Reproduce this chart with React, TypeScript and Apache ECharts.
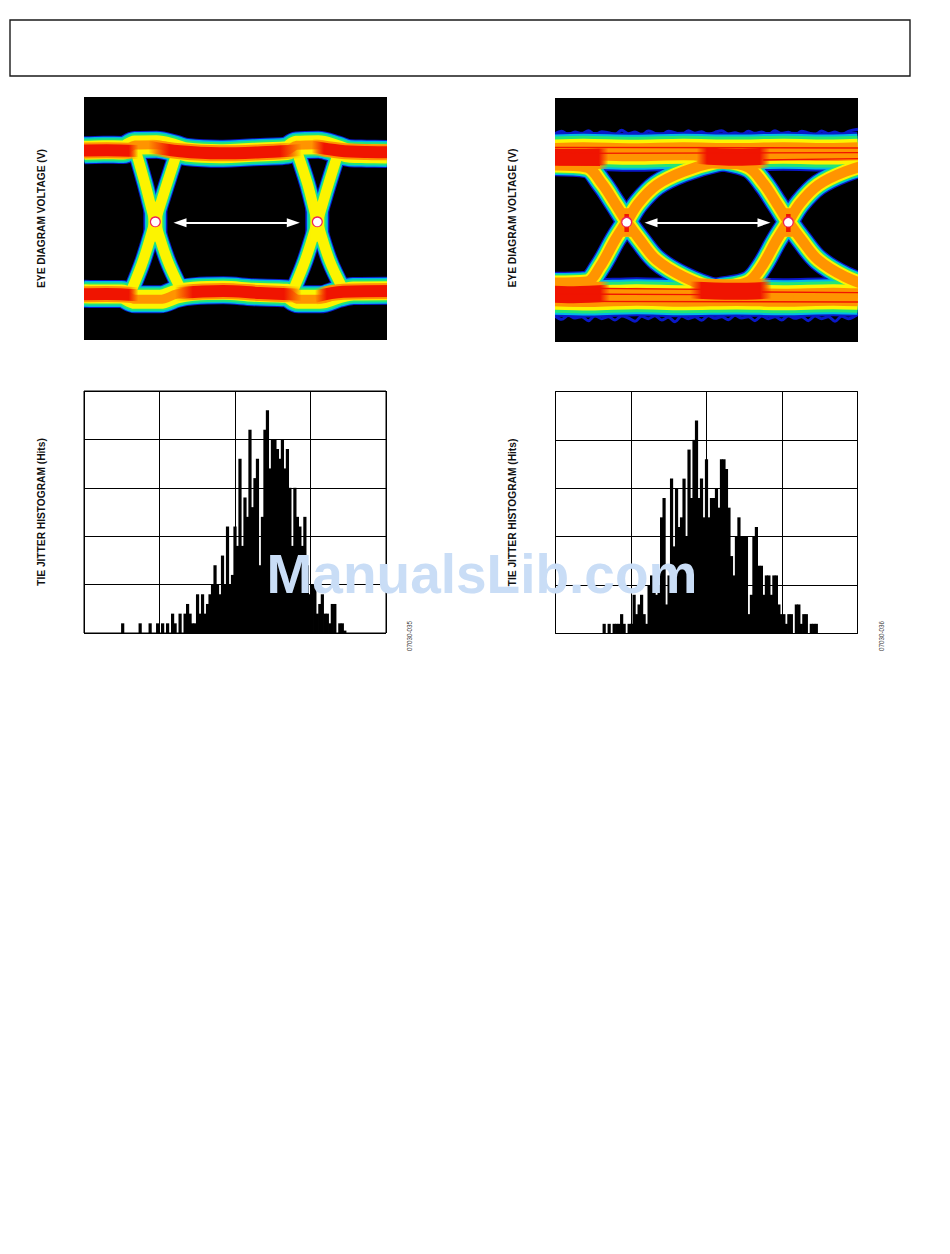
import React, { useEffect, useRef } from "react";
import * as echarts from "echarts";

type Pts = [number, number][];

// ---- Histogram hits per jitter bin ----
const binCount = 121;
const leftHits = [
  0,0,0,0,0,0,0,0,0,0,0,0,0,0,0,1,0,0,0,0,0,0,1,0,0,0,1,0,0,1,
  0,1,0,1,0,2,1,0,2,0,2,3,2,1,1,4,2,4,2,3,4,5,7,5,4,8,5,11,5,6,
  11,9,18,9,14,12,21,13,16,18,7,12,21,23,17,20,20,19,18,20,17,19,15,9,15,12,11,9,12,7,
  4,5,5,2,3,4,2,2,1,3,3,0,1,1,0.25,0,0,0,0,0,0,0,0,0,0,0,0,0,0,0,0,
];
const rightHits = [
  0,0,0,0,0,0,0,0,0,0,0,0,0,0,0,0,0,0,0,1,0,1,0,1,1,1,2,1,0,1,
  1,4,2,3,4,2,1,5,6,5,4,5,12,14,3,6,16,9,15,11,12,16,10,19,14,20,22,14,16,12,
  18,12,14,14,15,13,18,18,17,13,8,6,10,12,10,10,10,2,4,10,11,7,7,4,6,6,4,6,6,3,
  2,2,1,2,2,0,3,3,1,2,2,0,1,1,1,0,0,0,0,0,0,0,0,0,0,0,0,0,0,0,0,
];

// ---- Eye diagram traces, in the scope's raster units ----
const leftUpperRail: Pts = [[12,181],[70,179],[130,180],[165,165],[230,164],[285,176],[320,186],[420,191],[480,189],[560,185],[620,182],[650,166],[715,164],[770,178],[810,190],[860,191],[921,192]];
const leftLowerRail: Pts = [[12,611],[70,612],[125,612],[165,628],[240,628],[290,612],[340,604],[430,601],[520,607],[620,610],[655,628],[720,628],[775,612],[820,603],[921,602]];
const leftFalling1: Pts = [[168,185],[195,280],[225,395],[262,510],[302,597]];
const leftRising1: Pts = [[292,185],[258,290],[225,395],[190,510],[156,597]];
const leftFalling2: Pts = [[651,185],[682,280],[712,395],[748,510],[789,597]];
const leftRising2: Pts = [[776,185],[743,290],[712,395],[676,510],[641,597]];
const leftWaist1: Pts = [[226,335],[226,455]];
const leftWaist2: Pts = [[712,335],[712,455]];
const leftHotUpper: Pts[] = [
  [[-30,182],[80,181],[175,183]],
  [[205,170],[300,184],[420,190],[560,186],[665,180]],
  [[695,170],[780,182],[860,186],[960,187]],
];
const leftHotLower: Pts[] = [
  [[-30,613],[80,612],[175,616]],
  [[285,610],[430,603],[540,609],[665,614]],
  [[705,620],[790,605],[960,603]],
];
const leftCrossings: Pts = [[226,395],[712,395]];
const leftEyeArrow: Pts = [[300,398],[640,398]];

const rightUpperRail: Pts = [[15,186],[100,184],[250,187],[400,184],[550,186],[700,184],[850,186],[924,184]];
const rightLowerRail: Pts = [[15,622],[120,624],[260,620],[400,623],[560,621],[700,623],[850,620],[924,622]];
const rightFalling1: Pts = [[15,226],[110,232],[155,280],[195,340],[230,395],[270,450],[320,510],[400,560],[500,598],[640,618],[730,625]];
const rightRising1: Pts = [[15,578],[110,575],[150,530],[195,450],[230,395],[265,340],[320,285],[400,245],[500,215],[640,195],[730,188]];
const rightFalling2: Pts = [[410,190],[500,208],[595,232],[640,280],[680,340],[715,395],[755,450],[805,510],[885,560],[985,598]];
const rightRising2: Pts = [[410,618],[500,596],[595,575],[635,530],[680,450],[715,395],[750,340],[805,285],[885,245],[985,215]];
const rightWaist1: Pts = [[230,355],[230,440]];
const rightWaist2: Pts = [[715,355],[715,440]];
const rightCore1: Pts = [[230,372],[230,426]];
const rightCore2: Pts = [[715,372],[715,426]];
const rightHot: Pts[] = [
  [[-30,198],[60,202],[175,200]],
  [[440,196],[560,202],[660,198]],
  [[-30,610],[70,614],[180,610]],
  [[420,600],[550,604],[665,600]],
];
const rightStripes: Pts[] = [
  [[15,172],[924,174]],
  [[15,190],[924,188]],
  [[15,224],[150,226]],
  [[640,210],[924,206]],
  [[15,594],[460,598]],
  [[15,612],[460,614]],
  [[635,606],[924,608]],
  [[15,634],[924,636]],
];
const rightTopSpeckle: Pts = [[15,132],[35,124],[55,134],[75,126],[95,131],[115,122],[135,134],[155,125],[175,128],[195,133],[215,121],[235,131],[255,126],[275,135],[295,123],[315,130],[335,134],[355,124],[375,128],[395,135],[415,122],[435,130],[455,125],[475,134],[495,127],[515,122],[535,133],[555,128],[575,135],[595,124],[615,130],[635,126],[655,134],[675,122],[695,131],[715,127],[735,135],[755,124],[775,129],[795,134],[815,123],[835,131],[855,126],[875,134],[895,124],[924,118]];
const rightBottomSpeckle: Pts = [[15,678],[35,688],[55,676],[75,684],[95,680],[115,692],[135,677],[155,686],[175,680],[195,690],[215,678],[235,684],[255,694],[275,679],[295,686],[315,677],[335,690],[355,682],[375,695],[395,678],[415,686],[435,680],[455,691],[475,677],[495,685],[515,680],[535,689],[555,676],[575,684],[595,680],[615,692],[635,678],[655,686],[675,680],[695,690],[715,677],[735,685],[755,680],[775,692],[795,678],[815,686],[835,680],[855,694],[875,679],[895,686],[924,672]];
const rightCrossings: Pts = [[230,396],[715,396]];
const rightEyeArrow: Pts = [[303,398],[642,398]];

// ---- Texts ----
const eyeAxisName = "EYE DIAGRAM VOLTAGE (V)";
const histAxisName = "TIE JITTER HISTOGRAM (Hits)";
const leftFigureId = "07030-035";
const rightFigureId = "07030-036";
const watermark = "ManualsLib.com";

const levelColors = ["#0a18c8", "#00b8e8", "#22e676", "#fcf400", "#ff9400", "#f01400"];
const levelFade = ["#ff940000", "#f0140000"];
const font = "Liberation Sans";

function band(grid: number, pts: Pts, widths: number[], fade = false) {
  return widths
    .map((w, i) => {
      if (w <= 0) return null;
      const c = levelColors[i];
      const color =
        fade && i >= 4
          ? new echarts.graphic.LinearGradient(0, 0, 1, 0, [
              { offset: 0, color: levelFade[i - 4] },
              { offset: 0.14, color: c },
              { offset: 0.86, color: c },
              { offset: 1, color: levelFade[i - 4] },
            ])
          : c;
      return {
        type: "line",
        xAxisIndex: grid,
        yAxisIndex: grid,
        data: pts,
        symbol: "none",
        smooth: 0.35,
        silent: true,
        z: 3 + i,
        lineStyle: { color, width: w, cap: "butt", join: "round" },
      };
    })
    .filter(Boolean);
}

function crossings(grid: number, pts: Pts) {
  return [
    {
      type: "scatter",
      xAxisIndex: grid,
      yAxisIndex: grid,
      data: pts,
      symbolSize: 11,
      silent: true,
      z: 12,
      itemStyle: { color: "#f0205a", opacity: 1 },
    },
    {
      type: "scatter",
      xAxisIndex: grid,
      yAxisIndex: grid,
      data: pts.map(([x, y]) => [x, y + 1]),
      symbolSize: 8.5,
      silent: true,
      z: 13,
      itemStyle: { color: "#ffffff", opacity: 1 },
    },
  ];
}

function arrow(grid: number, pts: Pts) {
  return {
    type: "line",
    xAxisIndex: grid,
    yAxisIndex: grid,
    data: [],
    z: 14,
    silent: true,
    markLine: {
      silent: true,
      z: 14,
      animation: false,
      symbol: ["triangle", "triangle"],
      symbolSize: [9, 13],
      label: { show: false },
      lineStyle: { color: "#ffffff", width: 2, type: "solid" },
      data: [[{ coord: pts[0] }, { coord: pts[1] }]],
    },
  };
}

function histSeries(grid: number, hits: number[]) {
  return {
    type: "bar",
    xAxisIndex: grid,
    yAxisIndex: grid,
    data: hits.map((h, k) => [k + 0.5, h]).filter((d) => d[1] > 0),
    barWidth: 3.2,
    silent: true,
    z: 3,
    itemStyle: { color: "#000000" },
  };
}

const yAxisBase = (name: string, gap: number, padding: number[] = [0, 0, 0, 0]) => ({
  type: "value",
  name,
  nameLocation: "middle",
  nameGap: gap,
  nameTextStyle: { color: "#111111", fontFamily: font, fontWeight: "bold", fontSize: 10.2, padding },
  axisTick: { show: false },
  axisLabel: { show: false },
});

function buildOption() {
  const railW = [28, 26, 23, 19, 9];
  const legW = [17, 15, 13, 10.5];
  const hotW = [0, 0, 0, 0, 16, 12];
  const rRailW = [39, 35, 31, 25, 18];
  const rCurveW = [22, 19.5, 17, 14.5, 10.5];
  const leftSeries: any[] = [
    ...band(0, leftUpperRail, railW),
    ...band(0, leftLowerRail, railW),
    ...[leftFalling1, leftRising1, leftFalling2, leftRising2].flatMap((p) => band(0, p, legW)),
    ...[leftWaist1, leftWaist2].flatMap((p) => band(0, p, [24, 21, 18, 14])),
    ...[...leftHotUpper, ...leftHotLower].flatMap((p) => band(0, p, hotW, true)),
    ...crossings(0, leftCrossings),
    arrow(0, leftEyeArrow),
  ];
  const rightSeries: any[] = [
    ...band(1, rightTopSpeckle, [3]),
    ...band(1, rightBottomSpeckle, [3]),
    ...band(1, rightUpperRail, rRailW),
    ...band(1, rightLowerRail, rRailW),
    ...[rightFalling1, rightRising1, rightFalling2, rightRising2].flatMap((p) => band(1, p, rCurveW)),
    ...[rightWaist1, rightWaist2].flatMap((p) => band(1, p, [20, 17, 14, 11, 9])),
    ...[rightCore1, rightCore2].flatMap((p) => band(1, p, [0, 0, 0, 0, 0, 4.5])),
    ...rightHot.flatMap((p) => band(1, p, [0, 0, 0, 0, 24, 17], true)),
    ...rightStripes.flatMap((p) => band(1, p, [0, 0, 0, 0, 0, 1.4])),
    ...crossings(1, rightCrossings),
    arrow(1, rightEyeArrow),
  ];
  const frameH = { show: true, lineStyle: { color: "#000000", width: 1 } };
  const mask = (x: number, y: number, width: number, height: number) => ({
    type: "rect",
    z: 25,
    silent: true,
    shape: { x, y, width, height },
    style: { fill: "#ffffff" },
  });
  return {
    animation: false,
    backgroundColor: "#ffffff",
    grid: [
      { left: 84, top: 97, width: 303, height: 243, show: true, backgroundColor: "#000000", borderWidth: 0 },
      { left: 555, top: 98, width: 303, height: 244, show: true, backgroundColor: "#000000", borderWidth: 0 },
      { left: 84, top: 391, width: 302, height: 242, show: true, borderColor: "#000000", borderWidth: 1, backgroundColor: "#ffffff" },
      { left: 555.5, top: 391.5, width: 302, height: 242, show: true, borderColor: "#000000", borderWidth: 1, backgroundColor: "#ffffff" },
    ],
    xAxis: [
      { type: "value", gridIndex: 0, min: 12, max: 921, show: false },
      { type: "value", gridIndex: 1, min: 15, max: 924, show: false },
      ...[2, 3].map((g) => ({
        type: "value",
        gridIndex: g,
        min: 0,
        max: binCount,
        interval: binCount / 4,
        axisLine: { show: false },
        axisTick: { show: false },
        axisLabel: { show: false },
        splitLine: frameH,
      })),
    ],
    yAxis: [
      { ...yAxisBase(eyeAxisName, 38), gridIndex: 0, min: 21, max: 750, inverse: true, axisLine: { show: false }, splitLine: { show: false } },
      { ...yAxisBase(eyeAxisName, 38, [0, 0, 0, 4]), gridIndex: 1, min: 24, max: 756, inverse: true, axisLine: { show: false }, splitLine: { show: false } },
      ...[2, 3].map((g) => ({
        ...yAxisBase(histAxisName, 38),
        gridIndex: g,
        min: 0,
        max: 25,
        interval: 5,
        axisLine: { show: false },
        splitLine: frameH,
      })),
    ],
    series: [...leftSeries, ...rightSeries, histSeries(2, leftHits), histSeries(3, rightHits)],
    graphic: [
      mask(60, 95, 24, 247),
      mask(387, 95, 30, 247),
      mask(531, 95, 24, 249),
      mask(858, 95, 30, 249),
      { type: "rect", z: 30, shape: { x: 10, y: 20, width: 900, height: 56 }, style: { fill: "none", stroke: "#1a1a1a", lineWidth: 1.4 } },
      { type: "text", z: 30, x: 412, y: 636, rotation: Math.PI / 2, style: { text: leftFigureId, font: `6.3px "${font}"`, fill: "#333333", align: "center", verticalAlign: "bottom" } },
      { type: "text", z: 30, x: 884, y: 636, rotation: Math.PI / 2, style: { text: rightFigureId, font: `6.3px "${font}"`, fill: "#333333", align: "center", verticalAlign: "bottom" } },
      { type: "text", z: 40, x: 482, y: 574, style: { text: watermark, font: `bold 55px "${font}"`, fill: "#c9ddf6", align: "center", verticalAlign: "middle" } },
    ],
  };
}

export default function App() {
  const ref = useRef<HTMLDivElement>(null);
  useEffect(() => {
    const chart = echarts.init(ref.current!, undefined, { renderer: "svg" });
    chart.setOption(buildOption());
    return () => chart.dispose();
  }, []);
  return <div ref={ref} style={{ position: "absolute", left: 0, top: 0, width: 950, height: 1254 }} />;
}
